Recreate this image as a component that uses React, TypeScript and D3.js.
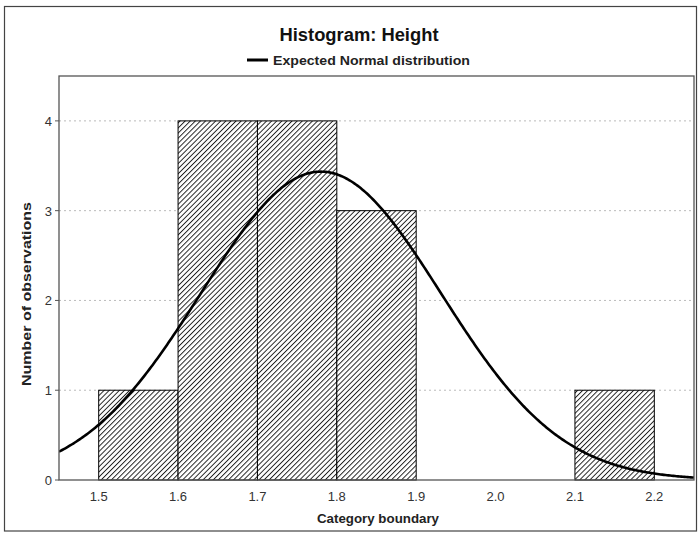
import React from "react";
import * as d3 from "d3";

const binStarts = [1.5, 1.6, 1.7, 1.8, 2.1];
const binCounts = [1, 4, 4, 3, 1];
const binWidth = 0.1;
const xTicks = [1.5, 1.6, 1.7, 1.8, 1.9, 2.0, 2.1, 2.2];
const yTicks = [0, 1, 2, 3, 4];
const normalMean = 1.78;
const normalSd = 0.151;
const totalN = 13;

const W = 698;
const H = 533;
const M = { left: 59, right: 694, top: 76, bottom: 480 };

export default function App() {
  const x = d3.scaleLinear().domain([1.45, 2.25]).range([M.left, M.right]);
  const y = d3.scaleLinear().domain([0, 4.5]).range([M.bottom, M.top]);

  const curveX = d3.range(0, 401).map((i) => 1.45 + (i / 400) * 0.8);
  const pdf = (v: number) =>
    (totalN * binWidth) / (normalSd * Math.sqrt(2 * Math.PI)) *
    Math.exp(-0.5 * ((v - normalMean) / normalSd) ** 2);
  const line = d3
    .line<number>()
    .x((d) => x(d))
    .y((d) => y(pdf(d)));

  const font = "'Liberation Sans', Arial, sans-serif";

  return (
    <svg width={W} height={H} style={{ position: "absolute", left: 0, top: 0 }}>
      <defs>
        <pattern id="hatch" patternUnits="userSpaceOnUse" width={3.6} height={3.6} patternTransform="rotate(45)">
          <rect width={3.6} height={3.6} fill="#fff" />
          <line x1={0.5} y1={0} x2={0.5} y2={3.6} stroke="#111" strokeWidth={0.9} />
        </pattern>
        <clipPath id="plotclip">
          <rect x={M.left} y={M.top} width={M.right - M.left} height={M.bottom - M.top} />
        </clipPath>
      </defs>
      <rect x={0} y={0} width={W} height={H} fill="#fff" />
      <rect x={4.5} y={6.5} width={692} height={524.5} fill="none" stroke="#444" strokeWidth={1.2} />

      <text x={359} y={41} textAnchor="middle" fontFamily={font} fontWeight="bold" fontSize={18} fill="#111" textLength={159} lengthAdjust="spacingAndGlyphs">
        Histogram: Height
      </text>
      <line x1={247} x2={268} y1={60} y2={60} stroke="#000" strokeWidth={3} />
      <text x={273} y={64.5} fontFamily={font} fontSize={13} fontWeight="bold" fill="#222" textLength={197} lengthAdjust="spacingAndGlyphs">
        Expected Normal distribution
      </text>

      {yTicks.filter((t) => t > 0).map((t) => (
        <line key={"g" + t} x1={M.left} x2={M.right} y1={y(t)} y2={y(t)} stroke="#bbb" strokeWidth={1} strokeDasharray="2,3" />
      ))}

      {binStarts.map((s, i) => (
        <rect
          key={"b" + i}
          x={x(s)}
          y={y(binCounts[i])}
          width={x(s + binWidth) - x(s)}
          height={y(0) - y(binCounts[i])}
          fill="url(#hatch)"
          stroke="#000"
          strokeWidth={1}
        />
      ))}

      <path d={line(curveX) || ""} fill="none" stroke="#000" strokeWidth={2.6} clipPath="url(#plotclip)" />

      <rect x={M.left} y={M.top} width={M.right - M.left} height={M.bottom - M.top} fill="none" stroke="#555" strokeWidth={1.3} />

      {yTicks.map((t) => (
        <g key={"y" + t}>
          <line x1={M.left - 4} x2={M.left} y1={y(t)} y2={y(t)} stroke="#555" />
          <text x={52} y={y(t) + 5} textAnchor="end" fontFamily={font} fontSize={13} fill="#333">
            {t}
          </text>
        </g>
      ))}
      {xTicks.map((t) => (
        <text key={"x" + t} x={x(t)} y={501} textAnchor="middle" fontFamily={font} fontSize={13} fill="#333">
          {t.toFixed(1)}
        </text>
      ))}

      <text x={378} y={523} textAnchor="middle" fontFamily={font} fontWeight="bold" fontSize={13} fill="#222" textLength={122} lengthAdjust="spacingAndGlyphs">
        Category boundary
      </text>
      <text
        transform={`translate(31, 294) rotate(-90)`}
        textAnchor="middle"
        fontFamily={font}
        fontWeight="bold"
        fontSize={13}
        fill="#222"
        textLength={184}
        lengthAdjust="spacingAndGlyphs"
      >
        Number of observations
      </text>
    </svg>
  );
}
